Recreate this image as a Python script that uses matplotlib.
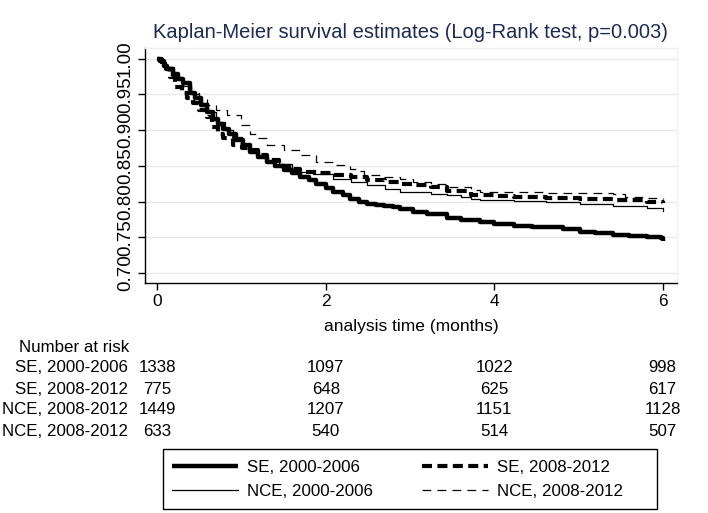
import matplotlib
matplotlib.use("Agg")
import matplotlib.pyplot as plt
from matplotlib.lines import Line2D
from matplotlib.patches import Rectangle
from matplotlib.transforms import blended_transform_factory

plt.rcParams['font.family'] = ['Liberation Sans', 'DejaVu Sans']
FONT = ['Liberation Sans', 'DejaVu Sans']

# ---------------- data ----------------
title = "Kaplan-Meier survival estimates (Log-Rank test, p=0.003)"
xlabel = "analysis time (months)"

se00_t = [0, 0.03, 0.08, 0.12, 0.19, 0.25, 0.31, 0.39, 0.45, 0.52, 0.59, 0.66, 0.72, 0.78,
          0.85, 0.94, 1.02, 1.10, 1.20, 1.30, 1.40, 1.50, 1.60, 1.69, 1.80, 1.89, 2.00, 2.09,
          2.20, 2.29, 2.40, 2.49, 2.60, 2.69, 2.80, 2.88, 3.04, 3.20, 3.44, 3.60, 3.83, 4.00,
          4.23, 4.45, 4.62, 4.82, 5.02, 5.20, 5.41, 5.60, 5.81, 5.98, 6.00]
se00_s = [1.0, 0.997, 0.990, 0.985, 0.978, 0.972, 0.966, 0.952, 0.945, 0.935, 0.926, 0.915,
          0.908, 0.902, 0.895, 0.886, 0.879, 0.870, 0.863, 0.856, 0.850, 0.844, 0.840, 0.835,
          0.830, 0.825, 0.819, 0.814, 0.809, 0.804, 0.800, 0.797, 0.795, 0.794, 0.792, 0.790,
          0.786, 0.782, 0.777, 0.774, 0.771, 0.769, 0.766, 0.765, 0.764, 0.761, 0.758, 0.756,
          0.753, 0.752, 0.751, 0.749, 0.745]

nce00_t = [0, 0.05, 0.10, 0.20, 0.30, 0.40, 0.50, 0.60, 0.70, 0.80, 0.90, 1.00, 1.10, 1.20,
           1.30, 1.45, 1.60, 1.69, 1.85, 2.09, 2.30, 2.49, 2.70, 2.88, 3.04, 3.25, 3.44, 3.60,
           3.72, 3.83, 4.23, 4.62, 5.02, 5.41, 5.81, 6.00]
nce00_s = [1.0, 0.995, 0.988, 0.975, 0.962, 0.950, 0.938, 0.925, 0.912, 0.900, 0.890, 0.880,
           0.871, 0.863, 0.857, 0.852, 0.846, 0.842, 0.838, 0.832, 0.827, 0.823, 0.818, 0.814,
           0.813, 0.811, 0.809, 0.806, 0.803, 0.802, 0.801, 0.799, 0.796, 0.794, 0.791, 0.787]

se08_t = [0, 0.05, 0.10, 0.15, 0.21, 0.29, 0.35, 0.42, 0.50, 0.59, 0.65, 0.72, 0.78, 0.90,
          1.00, 1.10, 1.20, 1.30, 1.45, 1.60, 1.69, 1.90, 2.09, 2.30, 2.49, 2.70, 2.88, 3.04,
          3.25, 3.44, 3.72, 4.00, 4.23, 4.62, 5.02, 5.41, 5.81, 6.00]
se08_s = [1.0, 0.993, 0.985, 0.975, 0.961, 0.952, 0.945, 0.938, 0.928, 0.918, 0.905, 0.895,
          0.889, 0.879, 0.875, 0.872, 0.865, 0.858, 0.850, 0.845, 0.842, 0.840, 0.837, 0.834,
          0.830, 0.827, 0.824, 0.823, 0.820, 0.815, 0.809, 0.808, 0.807, 0.805, 0.803, 0.802,
          0.800, 0.798]

nce08_t = [0, 0.05, 0.10, 0.20, 0.30, 0.40, 0.50, 0.59, 0.70, 0.83, 0.99, 1.10, 1.18, 1.30,
           1.50, 1.69, 1.89, 2.09, 2.29, 2.40, 2.45, 2.69, 2.88, 3.04, 3.25, 3.44, 3.72, 3.83,
           4.23, 4.62, 5.02, 5.41, 5.55, 5.81, 6.00]
nce08_s = [1.0, 0.995, 0.988, 0.975, 0.962, 0.952, 0.944, 0.935, 0.928, 0.921, 0.907, 0.895,
           0.889, 0.879, 0.872, 0.865, 0.856, 0.851, 0.846, 0.843, 0.837, 0.835, 0.831, 0.828,
           0.825, 0.821, 0.816, 0.814, 0.813, 0.812, 0.812, 0.810, 0.806, 0.805, 0.803]

legend_labels = ["SE, 2000-2006", "NCE, 2000-2006", "SE, 2008-2012", "NCE, 2008-2012"]

risk_times = [0, 2, 4, 6]
risk_labels = ["SE, 2000-2006", "SE, 2008-2012", "NCE, 2008-2012", "NCE, 2008-2012"]
risk_se00 = [1338, 1097, 1022, 998]
risk_se08 = [775, 648, 625, 617]
risk_nce00 = [1449, 1207, 1151, 1128]
risk_nce08 = [633, 540, 514, 507]

yticks = [0.70, 0.75, 0.80, 0.85, 0.90, 0.95, 1.00]
xticks = [0, 2, 4, 6]

# ---------------- figure ----------------
W, H = 708, 513
fig = plt.figure(figsize=(W / 100, H / 100), dpi=100)
fig.patch.set_facecolor('white')
ax = fig.add_axes([145 / W, 1 - 283 / H, (677 - 145) / W, (283 - 48) / H])

ax.set_xlim(-0.146, 6.17)
ax.set_ylim(0.686, 1.015)

for yv in yticks:
    ax.axhline(yv, color='#e6e9ee', lw=1.0, zorder=0)

ax.plot(se00_t, se00_s, drawstyle='steps-post', color='black', lw=3.2,
        solid_capstyle='butt', zorder=3)
ax.plot(nce00_t, nce00_s, drawstyle='steps-post', color='black', lw=0.9, zorder=4)
ax.plot(se08_t, se08_s, drawstyle='steps-post', color='black', lw=3.0,
        dashes=(2.4, 1.3), zorder=3)
ax.plot(nce08_t, nce08_s, drawstyle='steps-post', color='black', lw=0.9,
        dashes=(7, 5), zorder=4)

ax.set_xticks(xticks)
ax.set_xticklabels([str(v) for v in xticks], fontsize=12.5)
ax.set_yticks(yticks)
ax.set_yticklabels([f"{v:.2f}" for v in yticks], fontsize=13.5, rotation=90, va='center')
ax.tick_params(axis='both', direction='out', length=5, width=1, color='black', pad=3)

for s in ['left', 'bottom']:
    ax.spines[s].set_color('black')
    ax.spines[s].set_linewidth(1.0)
for s in ['top', 'right']:
    ax.spines[s].set_color('#f0f0f0')
    ax.spines[s].set_linewidth(1.0)

ax.set_xlabel(xlabel, fontsize=12.5, labelpad=7)

fig.text(410 / W, 1 - 32 / H, title, ha='center', va='center', fontsize=14.5,
         color='#1c2b55')

# ---------------- number at risk table ----------------
tr = blended_transform_factory(ax.transData, fig.transFigure)
fig.text(19 / W, 1 - 347 / H, "Number at risk", ha='left', va='center', fontsize=12.2,
         family=FONT)
row_y = [368, 389, 410, 431]
rows = [risk_se00, risk_se08, risk_nce00, risk_nce08]
for lab, vals, yy in zip(risk_labels, rows, row_y):
    fig.text(128 / W, 1 - yy / H, lab, ha='right', va='center', fontsize=12.2, family=FONT)
    for t, v in zip(risk_times, vals):
        ax.text(t, 1 - yy / H, str(v), transform=tr, ha='center', va='center',
                fontsize=12.2, family=FONT)

# ---------------- legend ----------------
handles = [
    Line2D([], [], color='black', lw=3.2, solid_capstyle='butt'),
    Line2D([], [], color='black', lw=0.9),
    Line2D([], [], color='black', lw=3.0, dashes=(2.4, 1.3)),
    Line2D([], [], color='black', lw=0.9, dashes=(7, 5)),
]
leg = fig.legend(handles, legend_labels, ncol=2, loc='center left',
                 bbox_to_anchor=(172 / W, 1 - 479.5 / H), fontsize=12.2,
                 frameon=False, borderpad=0, borderaxespad=0,
                 handlelength=3.9, handletextpad=0.5, columnspacing=2.95,
                 labelspacing=0.5)
fig.patches.append(Rectangle((163 / W, 1 - 509 / H), (657 - 163) / W, (509 - 449) / H,
                             transform=fig.transFigure, fill=False, edgecolor='black',
                             lw=1.0))

fig.savefig("out.png", dpi=100, facecolor='white')
